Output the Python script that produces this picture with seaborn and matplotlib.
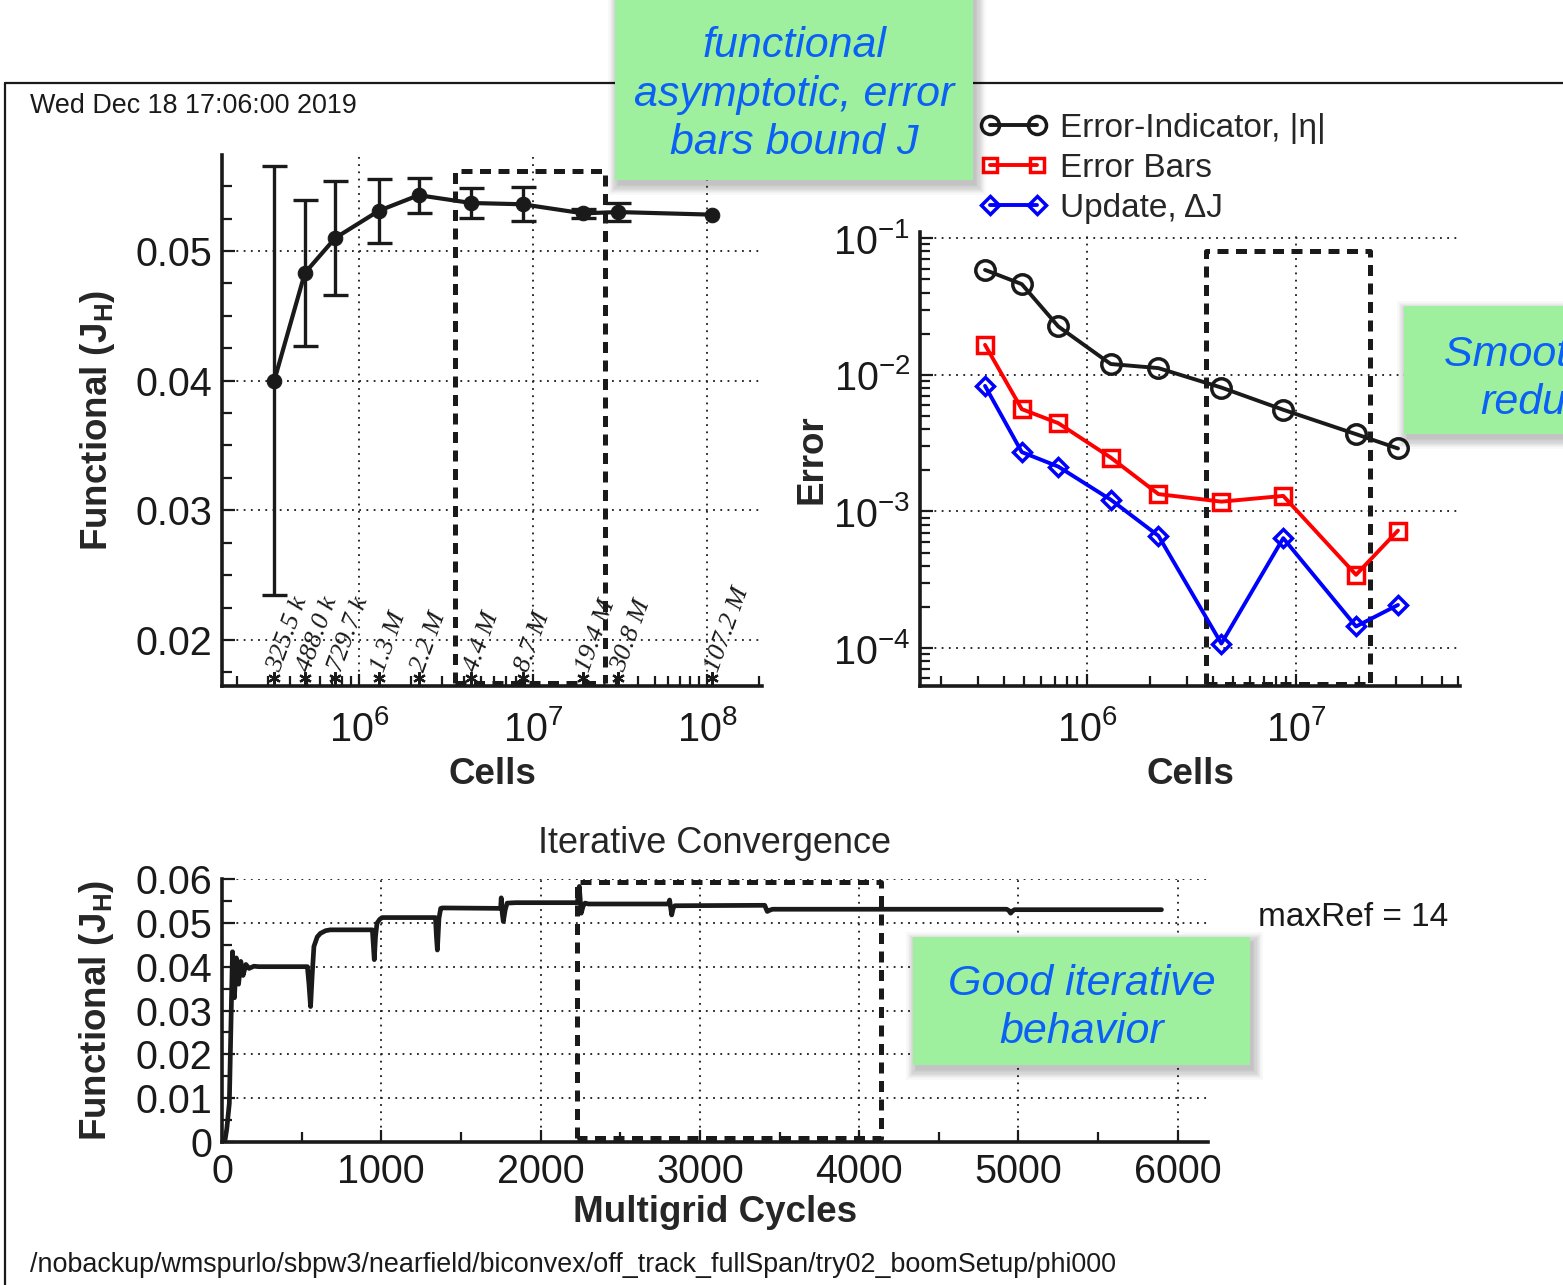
import matplotlib
matplotlib.use("Agg")
import matplotlib.pyplot as plt
import seaborn as sns
import numpy as np
from matplotlib.patches import Rectangle
from matplotlib.lines import Line2D
from matplotlib.ticker import MultipleLocator, LogLocator, NullFormatter, FuncFormatter

# ---------------- data ----------------
cells = [325.5e3, 488.0e3, 729.7e3, 1.3e6, 2.2e6, 4.4e6, 8.7e6, 19.4e6, 30.8e6, 107.2e6]
cell_labels = ["325.5 k", "488.0 k", "729.7 k", "1.3 M", "2.2 M", "4.4 M",
               "8.7 M", "19.4 M", "30.8 M", "107.2 M"]
functional = [0.0400, 0.0483, 0.0510, 0.0531, 0.0543, 0.0537, 0.0536, 0.0529, 0.0530, 0.0528]

err_cells = cells[:9]
error_indicator = [0.0586, 0.0461, 0.0226, 0.0120, 0.0112, 0.00807, 0.00555, 0.00368, 0.00289]
error_bars = [0.01657, 0.00561, 0.00443, 0.00248, 0.00134, 0.00118, 0.00130, 0.000344, 0.000725]
update_dj = [0.0083, 0.00272, 0.00213, 0.00122, 0.000663, 0.000108, 0.000638, 0.000144, 0.000207]

mg_cycles = [0, 17, 30, 46, 58, 66, 78, 90, 104, 118, 132, 150, 170, 200, 230,
             536, 546, 556, 566, 577, 598, 618, 650, 679,
             944, 950, 956, 964, 973, 990, 1005,
             1340, 1346, 1352, 1362, 1373, 1385,
             1749, 1753, 1760, 1766, 1778, 1790, 1843,
             2231, 2243, 2255, 2267, 2279, 2300,
             2802, 2810, 2823, 2833, 2843,
             3407, 3423, 3440, 3456,
             4926, 4940, 4951, 4963, 4975, 5898]
mg_functional = [0.0, 0.0, 0.0030, 0.0088, 0.0300, 0.0434, 0.0329, 0.0420, 0.0360, 0.0412, 0.0380, 0.0405, 0.0396, 0.0401, 0.0400,
                 0.0400, 0.0360, 0.0309, 0.0380, 0.0446, 0.0468, 0.0476, 0.0482, 0.0484,
                 0.0484, 0.0450, 0.0416, 0.0470, 0.0499, 0.0508, 0.0512,
                 0.0512, 0.0470, 0.0438, 0.0510, 0.0533, 0.0534,
                 0.0533, 0.0557, 0.0520, 0.0503, 0.0530, 0.0545, 0.0546,
                 0.0546, 0.0583, 0.0522, 0.0538, 0.0545, 0.0543,
                 0.0543, 0.0552, 0.0518, 0.0534, 0.0539,
                 0.0540, 0.0526, 0.0529, 0.0531,
                 0.0531, 0.0528, 0.0522, 0.0527, 0.0530, 0.0530]

# ---------------- style ----------------
sns.set_theme(style="ticks")
plt.rcParams["font.family"] = ["Liberation Sans", "DejaVu Sans"]
plt.rcParams["mathtext.fontset"] = "custom"
plt.rcParams["mathtext.rm"] = "Liberation Sans"
plt.rcParams["mathtext.bf"] = "Liberation Sans:bold"
plt.rcParams["mathtext.it"] = "Liberation Sans:italic"

W, H = 1563, 1285
fig = plt.figure(figsize=(W / 100, H / 100), dpi=100)
fig.patch.set_facecolor("white")


def fr(x0, y0, x1, y1):
    return [x0 / W, 1 - y1 / H, (x1 - x0) / W, (y1 - y0) / H]


def fx(x):
    return x / W


def fy(y):
    return 1 - y / H


TICK_FS = 28.5
LABEL_FS = 26.5
DASH = (0, (2.2, 1.5))


def style_axes(ax):
    for s in ["top", "right"]:
        ax.spines[s].set_visible(False)
    for s in ["left", "bottom"]:
        ax.spines[s].set_linewidth(2.6)
        ax.spines[s].set_color("k")
    ax.tick_params(which="both", direction="in", bottom=True, left=True, top=False, right=False,
                   color="k", width=1.6, labelsize=TICK_FS, labelcolor="k")
    ax.tick_params(which="major", length=9)
    ax.tick_params(which="minor", length=7)
    ax.set_facecolor("white")


# outer frame
fig.add_artist(Line2D([fx(5), fx(5)], [fy(83), 0], transform=fig.transFigure, color="k", lw=1.6))
fig.add_artist(Line2D([fx(5), 1], [fy(83), fy(83)], transform=fig.transFigure, color="k", lw=1.6))

# ---------------- top-left: functional vs cells ----------------
ax1 = fig.add_axes(fr(222, 155, 762, 686))
style_axes(ax1)
ax1.set_xscale("log")
ax1.set_xlim(1.63e5, 2.07e8)
ax1.set_ylim(0.01645, 0.0574)
ax1.grid(True, which="major", linestyle=(0, (1, 3)), color="k", lw=1.3)
ax1.yaxis.set_major_locator(MultipleLocator(0.01))
ax1.yaxis.set_minor_locator(MultipleLocator(0.0025))
ax1.yaxis.set_major_formatter(FuncFormatter(lambda v, p: f"{v:.2f}"))
ax1.xaxis.set_major_locator(LogLocator(base=10))
ax1.xaxis.set_minor_locator(LogLocator(base=10, subs=np.arange(2, 10)))
ax1.xaxis.set_minor_formatter(NullFormatter())

sns.lineplot(x=cells, y=functional, ax=ax1, color="k", lw=3.0, marker="o", markersize=10.5,
             markeredgecolor="k", markerfacecolor="k", estimator=None, sort=False, zorder=4)
ax1.errorbar(err_cells, functional[:9], yerr=error_bars, fmt="none", ecolor="k",
             elinewidth=2.4, capsize=9, capthick=2.4, zorder=4)
ax1.plot(cells, [0.0171] * len(cells), ls="none", marker=(6, 2, 0), ms=9, mew=1.6, color="k", zorder=5)
for c, lbl in zip(cells, cell_labels):
    ax1.annotate(lbl, xy=(c, 0.0171), xytext=(4, 3), textcoords="offset points", rotation=70,
                 rotation_mode="anchor", ha="left", va="baseline", fontsize=19,
                 family="Liberation Serif", style="italic", color="k")
rx0, rx1, ry0, ry1 = 3.57e6, 2.59e7, 0.0167, 0.05618
ax1.plot([rx0, rx0, rx1, rx1], [ry0, ry1, ry1, ry0], color="k", lw=3.6, ls=DASH,
         clip_on=False, zorder=3)
ax1.plot([rx0, rx1], [ry0, ry0], color="k", lw=3.6, ls=DASH, clip_on=False, zorder=3)
ax1.set_xlabel("Cells", fontsize=LABEL_FS, fontweight="bold")
ax1.set_ylabel(r"Functional (J$_\mathbf{H}$)", fontsize=LABEL_FS, fontweight="bold")
ax1.xaxis.set_label_coords(0.5, -0.133)
ax1.yaxis.set_label_coords(-0.195, 0.5)
ax1.tick_params(axis="x", pad=17)
ax1.tick_params(axis="y", pad=7)

# ---------------- top-right: error vs cells ----------------
ax2 = fig.add_axes(fr(920, 232, 1460, 686))
style_axes(ax2)
ax2.set_xscale("log")
ax2.set_yscale("log")
ax2.set_xlim(1.59e5, 6.1e7)
ax2.set_ylim(5.28e-5, 0.111)
ax2.grid(True, which="major", linestyle=(0, (1, 3)), color="k", lw=1.3)
for axis in (ax2.xaxis, ax2.yaxis):
    axis.set_major_locator(LogLocator(base=10))
    axis.set_minor_locator(LogLocator(base=10, subs=np.arange(2, 10)))
    axis.set_minor_formatter(NullFormatter())

sns.lineplot(x=err_cells, y=error_indicator, ax=ax2, color="k", lw=2.8, marker="o", markersize=14,
             markerfacecolor="none", markeredgecolor="k", markeredgewidth=2.5,
             estimator=None, sort=False, zorder=4)
sns.lineplot(x=err_cells, y=error_bars, ax=ax2, color="#ff0000", lw=2.8, marker="s", markersize=11,
             markerfacecolor="none", markeredgecolor="#ff0000", markeredgewidth=2.5,
             estimator=None, sort=False, zorder=4)
sns.lineplot(x=err_cells, y=update_dj, ax=ax2, color="#0000ff", lw=2.8, marker="D", markersize=9,
             markerfacecolor="none", markeredgecolor="#0000ff", markeredgewidth=2.5,
             estimator=None, sort=False, zorder=4)
sx0, sx1, sy0, sy1 = 3.71e6, 2.26e7, 5.5e-5, 0.0811
ax2.plot([sx0, sx0, sx1, sx1], [sy0, sy1, sy1, sy0], color="k", lw=3.6, ls=DASH,
         clip_on=False, zorder=3)
ax2.plot([sx0, sx1], [sy0, sy0], color="k", lw=3.6, ls=DASH, clip_on=False, zorder=3)
ax2.set_xlabel("Cells", fontsize=LABEL_FS, fontweight="bold")
ax2.set_ylabel("Error", fontsize=LABEL_FS, fontweight="bold")
ax2.xaxis.set_label_coords(0.5, -0.157)
ax2.yaxis.set_label_coords(-0.168, 0.5)
ax2.tick_params(axis="x", pad=17)
ax2.tick_params(axis="y", pad=7)

handles = [
    Line2D([], [], color="k", lw=2.8, marker="o", ms=13, mfc="none", mec="k", mew=2.5),
    Line2D([], [], color="#ff0000", lw=2.8, marker="s", ms=10.5, mfc="none", mec="#ff0000", mew=2.5),
    Line2D([], [], color="#0000ff", lw=2.8, marker="D", ms=9, mfc="none", mec="#0000ff", mew=2.5),
]
labels = ["Error-Indicator, |η|", "Error Bars", "Update, ΔJ"]
leg = ax2.legend(handles, labels, loc="upper left", bbox_to_anchor=(fx(980), fy(113)),
                 bbox_transform=fig.transFigure, frameon=False, fontsize=24, numpoints=2,
                 handlelength=2.0, handletextpad=0.4, labelspacing=0.27, borderpad=0,
                 borderaxespad=0)

# ---------------- bottom: iterative convergence ----------------
ax3 = fig.add_axes(fr(222, 879, 1208, 1142))
style_axes(ax3)
ax3.set_xlim(0, 6190)
ax3.set_ylim(0, 0.06)
ax3.xaxis.set_major_locator(MultipleLocator(1000))
ax3.xaxis.set_minor_locator(MultipleLocator(500))
ax3.yaxis.set_major_locator(MultipleLocator(0.01))
ax3.yaxis.set_minor_locator(MultipleLocator(0.005))
ax3.yaxis.set_major_formatter(FuncFormatter(lambda v, p: "0" if abs(v) < 1e-9 else f"{v:.2f}"))
ax3.grid(True, which="major", linestyle=(0, (1, 3)), color="k", lw=1.3)
sns.lineplot(x=mg_cycles, y=mg_functional, ax=ax3, color="k", lw=3.4, estimator=None, sort=False,
             zorder=4)
bx0, bx1, by0, by1 = 2231, 4134, 0.0009, 0.0594
ax3.plot([bx0, bx0, bx1, bx1, bx0], [by0, by1, by1, by0, by0], color="k", lw=3.6,
         ls=DASH, clip_on=False, zorder=3)
ax3.set_title("Iterative Convergence", fontsize=26, pad=19)
ax3.set_xlabel("Multigrid Cycles", fontsize=LABEL_FS, fontweight="bold")
ax3.set_ylabel(r"Functional (J$_\mathbf{H}$)", fontsize=LABEL_FS, fontweight="bold")
ax3.xaxis.set_label_coords(0.5, -0.2)
ax3.yaxis.set_label_coords(-0.108, 0.5)
ax3.tick_params(axis="x", pad=8)
ax3.tick_params(axis="y", pad=7)

# ---------------- texts ----------------
fig.text(fx(30), fy(106), "Wed Dec 18 17:06:00 2019", fontsize=19.4, va="center", ha="left", color="k")
fig.text(fx(30), fy(1265),
         "/nobackup/wmspurlo/sbpw3/nearfield/biconvex/off_track_fullSpan/try02_boomSetup/phi000",
         fontsize=19.4, va="center", ha="left", color="k")
fig.text(fx(1258), fy(917), "maxRef = 14", fontsize=24, va="center", ha="left", color="k")

# ---------------- green note boxes ----------------
GREEN = "#9ef09e"
BLUE = "#0b60f5"


def note(x0, y0, x1, y1, lines, cx, ys):
    for i in range(9):
        g = i * 1.2
        fig.add_artist(Rectangle((fx(x0 + 3 - g), fy(y1 + 5 + g)), (x1 - x0 + 2 * g) / W,
                                 (y1 - y0 + 2 * g) / H, transform=fig.transFigure,
                                 facecolor="black", edgecolor="none", alpha=0.028, zorder=20))
    fig.add_artist(Rectangle((fx(x0), fy(y1)), (x1 - x0) / W, (y1 - y0) / H,
                             transform=fig.transFigure, facecolor=GREEN, edgecolor="none",
                             zorder=21))
    for t, yy in zip(lines, ys):
        fig.text(fx(cx), fy(yy), t, fontsize=31, style="italic", color=BLUE, ha="center",
                 va="center", zorder=22)


note(615, -10, 973, 180, ["functional", "asymptotic, error", "bars bound J"], 794, [46, 95, 143])
note(1404, 306, 1734, 434, ["Smooth error", "reduction"], 1569, [355, 403])
note(913, 937, 1250, 1065, ["Good iterative", "behavior"], 1082, [984, 1032])

fig.savefig("out.png", dpi=100, facecolor="white")
